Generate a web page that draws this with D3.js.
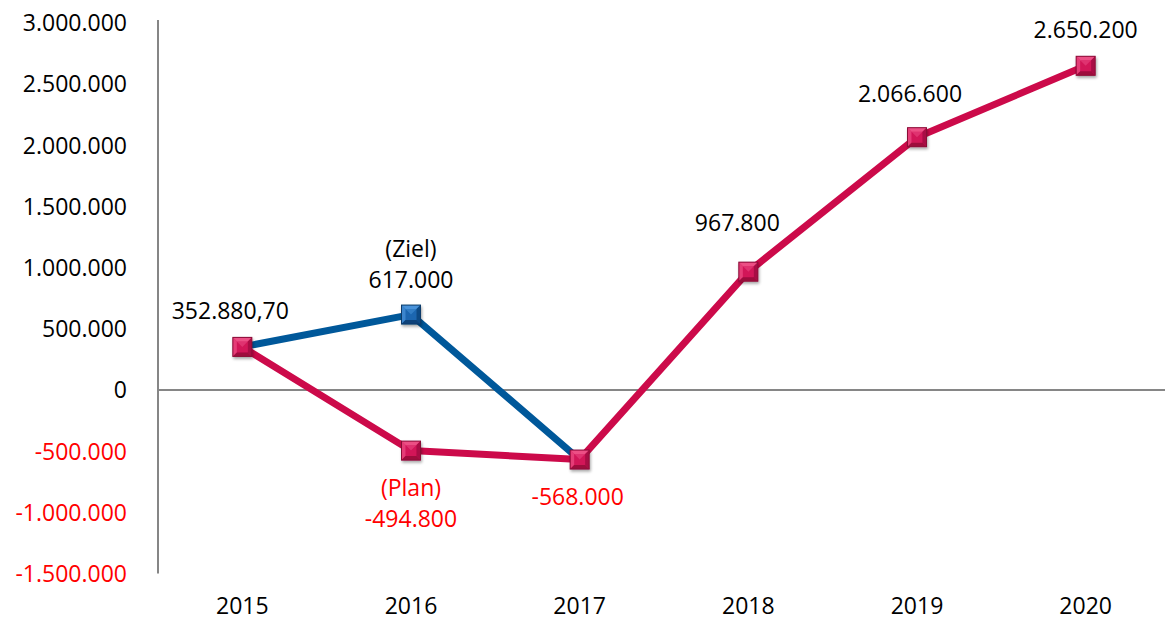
<!DOCTYPE html>
<html>
<head>
<meta charset="utf-8">
<script src="https://cdn.jsdelivr.net/npm/d3@7"></script>
<style>
  body { margin: 0; background: #fff; }
  text { font-family: "Open Sans", "Noto Sans", sans-serif; }
</style>
</head>
<body>
<div id="chart"></div>
<script>
// years and values
const years = ["2015", "2016", "2017", "2018", "2019", "2020"];
const planValues = [352880.70, -494800, -568000, 967800, 2066600, 2650200];
const zielYears = ["2015", "2016", "2017"];
const zielValues = [352880.70, 617000, -568000];
const yTicks = [3000000, 2500000, 2000000, 1500000, 1000000, 500000, 0, -500000, -1000000, -1500000];

const width = 1167, height = 620;
const margin = { top: 23, right: 0, bottom: 46, left: 158 };
const fs = 23;

const red = "#CC0A4A";
const blue = "#00589A";
const negRed = "#FF0000";

const svg = d3.select("#chart").append("svg")
  .attr("width", width)
  .attr("height", height);

const x = d3.scaleBand()
  .domain(years)
  .range([margin.left, 1170]);

const y = d3.scaleLinear()
  .domain([-1500000, 3000000])
  .range([573.6, 23]);

// German number format, plain hyphen for negatives
const de = d3.formatLocale({ decimal: ",", thousands: ".", grouping: [3], currency: ["", "€"], minus: "-" });
const fmt = de.format(",.0f");

// drop shadow for markers
const defs = svg.append("defs");
const shadow = defs.append("filter").attr("id", "shadow")
  .attr("x", "-50%").attr("y", "-50%").attr("width", "200%").attr("height", "200%");
shadow.append("feGaussianBlur").attr("in", "SourceAlpha").attr("stdDeviation", 1.5);
shadow.append("feOffset").attr("dx", 1).attr("dy", 2).attr("result", "b");
shadow.append("feComponentTransfer").append("feFuncA").attr("type", "linear").attr("slope", 0.35);
const merge = shadow.append("feMerge");
merge.append("feMergeNode");
merge.append("feMergeNode").attr("in", "SourceGraphic");

// y axis
svg.append("line")
  .attr("x1", margin.left).attr("x2", margin.left)
  .attr("y1", 20).attr("y2", 573.6)
  .attr("stroke", "#868686").attr("stroke-width", 2);

// zero line
svg.append("line")
  .attr("x1", margin.left).attr("x2", 1165)
  .attr("y1", y(0)).attr("y2", y(0))
  .attr("stroke", "#868686").attr("stroke-width", 2);

// y tick labels
svg.append("g").selectAll("text")
  .data(yTicks)
  .join("text")
  .attr("x", 127)
  .attr("y", d => y(d))
  .attr("dy", "0.36em")
  .attr("text-anchor", "end")
  .attr("font-size", fs)
  .attr("fill", d => d < 0 ? negRed : "#000")
  .text(d => fmt(d));

// x labels
svg.append("g").selectAll("text")
  .data(years)
  .join("text")
  .attr("x", d => x(d) + x.bandwidth() / 2)
  .attr("y", 606)
  .attr("dy", "0.36em")
  .attr("text-anchor", "middle")
  .attr("font-size", fs)
  .attr("fill", "#000")
  .text(d => d);

const line = d3.line()
  .x(d => x(d[0]) + x.bandwidth() / 2)
  .y(d => y(d[1]));

const planData = years.map((yr, i) => [yr, planValues[i]]);
const zielData = zielYears.map((yr, i) => [yr, zielValues[i]]);

svg.append("path")
  .datum(zielData)
  .attr("d", line)
  .attr("fill", "none")
  .attr("stroke", blue)
  .attr("stroke-width", 7)
  .attr("stroke-linejoin", "round");

svg.append("path")
  .datum(planData)
  .attr("d", line)
  .attr("fill", "none")
  .attr("stroke", red)
  .attr("stroke-width", 7)
  .attr("stroke-linejoin", "round");

// bevelled square markers
function drawMarker(g, cx, cy, c) {
  const s = 9.5, t = 4;
  const m = g.append("g").attr("transform", `translate(${cx},${cy})`).attr("filter", "url(#shadow)");
  m.append("rect").attr("x", -s).attr("y", -s).attr("width", 2 * s).attr("height", 2 * s)
    .attr("fill", c.mid);
  m.append("polygon").attr("points", [[-s, -s], [s, -s], [s - t, -s + t], [-s + t, -s + t]].join(" ")).attr("fill", c.light);
  m.append("polygon").attr("points", [[-s, -s], [-s + t, -s + t], [-s + t, s - t], [-s, s]].join(" ")).attr("fill", c.light).attr("opacity", 0.7);
  m.append("polygon").attr("points", [[-s, s], [-s + t, s - t], [s - t, s - t], [s, s]].join(" ")).attr("fill", c.dark);
  m.append("polygon").attr("points", [[s, -s], [s, s], [s - t, s - t], [s - t, -s + t]].join(" ")).attr("fill", c.dark).attr("opacity", 0.8);
  m.append("polygon").attr("points", [[-s + t, -s + t], [s - t, -s + t], [0, 0]].join(" ")).attr("fill", c.light).attr("opacity", 0.5);
  m.append("rect").attr("x", -s).attr("y", -s).attr("width", 2 * s).attr("height", 2 * s)
    .attr("fill", "none").attr("stroke", c.edge).attr("stroke-width", 1);
}

const redMarker = { mid: "#D21459", light: "#EC4F85", dark: "#9E0C3E", edge: "#8A0A36" };
const blueMarker = { mid: "#1A66B0", light: "#4A93DA", dark: "#0C4379", edge: "#0B3A6A" };

const markers = svg.append("g");
zielData.slice(1, 2).forEach(d => drawMarker(markers, x(d[0]) + x.bandwidth() / 2, y(d[1]), blueMarker));
planData.forEach(d => drawMarker(markers, x(d[0]) + x.bandwidth() / 2, y(d[1]), redMarker));

// data labels
const labels = [
  { year: "2015", value: 352880.70, lines: ["352.880,70"], dx: -12, dy: -36, color: "#000" },
  { year: "2016", value: 617000, lines: ["(Ziel)", "617.000"], dx: 0, dy: -35, color: "#000" },
  { year: "2016", value: -494800, lines: ["(Plan)", "-494.800"], dx: 0, dy: 37, color: negRed },
  { year: "2017", value: -568000, lines: ["-568.000"], dx: -2, dy: 37, color: negRed },
  { year: "2018", value: 967800, lines: ["967.800"], dx: -11, dy: -49, color: "#000" },
  { year: "2019", value: 2066600, lines: ["2.066.600"], dx: -7, dy: -43, color: "#000" },
  { year: "2020", value: 2650200, lines: ["2.650.200"], dx: 0, dy: -36, color: "#000" }
];

const lab = svg.append("g");
labels.forEach(l => {
  const cx = x(l.year) + x.bandwidth() / 2 + l.dx;
  const cy = y(l.value) + l.dy;
  const n = l.lines.length;
  const lh = 31;
  l.lines.forEach((t, i) => {
    const ly = l.dy < 0 ? cy - (n - 1 - i) * lh : cy + i * lh;
    lab.append("text")
      .attr("x", cx)
      .attr("y", ly)
      .attr("dy", "0.36em")
      .attr("text-anchor", "middle")
      .attr("font-size", fs)
      .attr("fill", l.color)
      .text(t);
  });
});
</script>
</body>
</html>
